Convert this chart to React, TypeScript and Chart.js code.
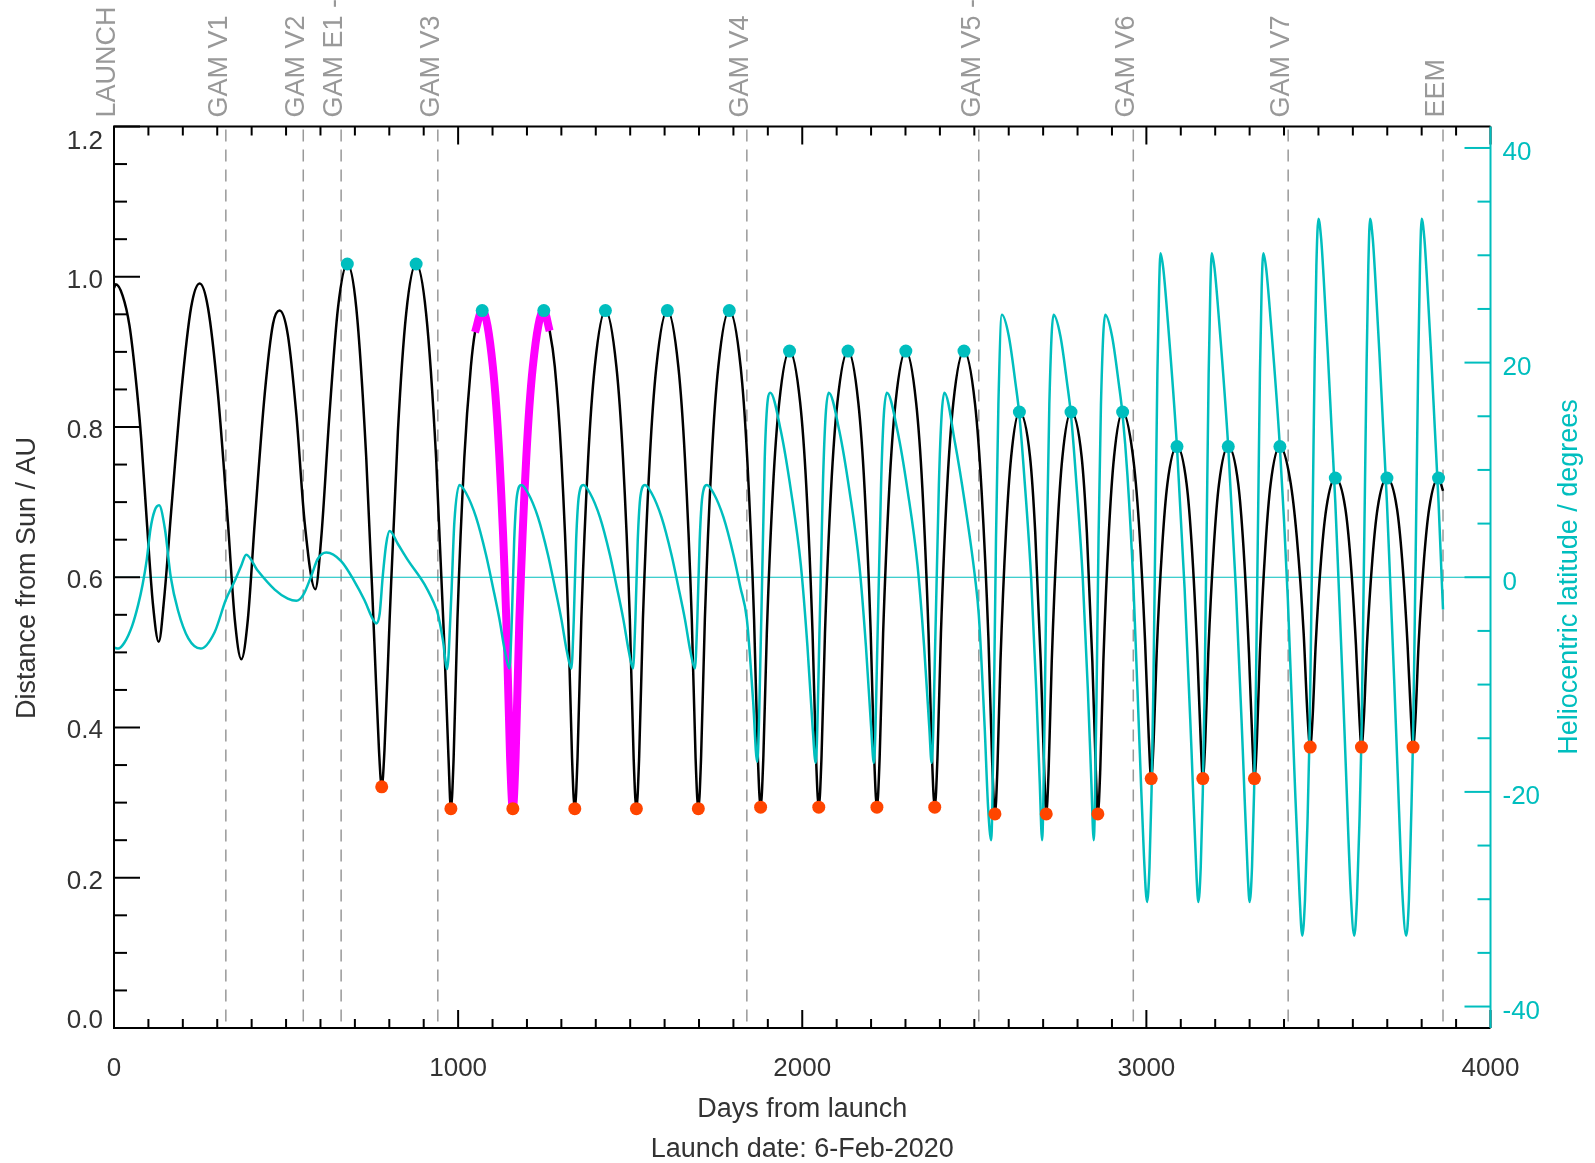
import React, { useEffect, useRef } from "react";
import { Chart, registerables } from "chart.js";

Chart.register(...registerables);

type Pt = [number, number];

// ---- Mission events (days from launch) ----
const eventNames = ["LAUNCH", "GAM V1", "GAM V2", "GAM E1 -", "GAM V3", "GAM V4", "GAM V5 -", "GAM V6", "GAM V7", "EEM"];
const eventDays = [0, 325, 550, 660, 941, 1839, 2513, 2962, 3412, 3862];

// ---- Axis ticks ----
const xTickValues = [0, 1000, 2000, 3000, 4000];
const xTickLabels = ["0", "1000", "2000", "3000", "4000"];
const leftTickValues = [0, 0.2, 0.4, 0.6, 0.8, 1.0, 1.2];
const leftTickLabels = ["0.0", "0.2", "0.4", "0.6", "0.8", "1.0", "1.2"];
const rightTickValues = [-40, -20, 0, 20, 40];
const rightTickLabels = ["-40", "-20", "0", "20", "40"];

// ---- Distance from Sun (AU) : [day, AU] ----
const distCruise: Pt[] = [
  [0, 0.985], [5, 0.99], [25, 0.975], [45, 0.935], [62, 0.87], [79, 0.785], [96, 0.67], [113, 0.565], [130, 0.514],
  [146, 0.573], [166, 0.687], [195, 0.844], [224, 0.959], [249, 0.991], [273, 0.959], [302, 0.844],
  [331, 0.673], [351, 0.544], [370, 0.491], [389, 0.544], [409, 0.673], [438, 0.844], [462, 0.937],
  [481, 0.955], [505, 0.923], [530, 0.816], [554, 0.673], [585, 0.584], [602, 0.651], [626, 0.816],
  [651, 0.959], [678, 1.017], [704, 0.959], [733, 0.759], [757, 0.509], [770, 0.37], [778, 0.321],
  [786, 0.37], [801, 0.544], [825, 0.794], [849, 0.951], [878, 1.017], [907, 0.951], [936, 0.759],
  [960, 0.509], [972, 0.36],
];
const distPostV3: Pt[] = [
  [979, 0.292], [987, 0.36], [998, 0.544], [1018, 0.759], [1037, 0.88], [1049, 0.926], [1070, 0.955],
  [1101, 0.88], [1120, 0.759], [1140, 0.544], [1151, 0.36], [1159, 0.292], [1167, 0.36], [1178, 0.544],
  [1198, 0.759], [1217, 0.88], [1249, 0.955], [1266, 0.928], [1281, 0.88], [1300, 0.759], [1320, 0.544],
  [1331, 0.36], [1339, 0.292], [1347, 0.36], [1358, 0.544], [1378, 0.759], [1397, 0.88], [1428, 0.955],
  [1460, 0.88], [1479, 0.759], [1499, 0.544], [1510, 0.36], [1518, 0.292], [1526, 0.36], [1537, 0.544],
  [1557, 0.759], [1576, 0.88], [1608, 0.955], [1640, 0.88], [1659, 0.759], [1679, 0.544], [1690, 0.36],
  [1698, 0.292], [1706, 0.36], [1717, 0.544], [1737, 0.759], [1756, 0.88], [1788, 0.955], [1821, 0.88],
  [1840, 0.759], [1860, 0.544], [1871, 0.36],
];
const distPostV4: Pt[] = [
  [1879, 0.294], [1887, 0.361], [1897, 0.525], [1915, 0.719], [1933, 0.832], [1963, 0.901], [1994, 0.832],
  [2012, 0.719], [2030, 0.525], [2040, 0.361], [2048, 0.294], [2056, 0.361], [2066, 0.525], [2084, 0.719],
  [2102, 0.832], [2133, 0.901], [2163, 0.832], [2181, 0.719], [2199, 0.525], [2209, 0.361], [2217, 0.294],
  [2225, 0.361], [2235, 0.525], [2253, 0.719], [2271, 0.832], [2301, 0.901], [2331, 0.832], [2349, 0.719],
  [2367, 0.525], [2377, 0.361], [2385, 0.294], [2393, 0.361], [2403, 0.525], [2421, 0.719], [2439, 0.832],
  [2470, 0.901], [2502, 0.831], [2521, 0.716], [2541, 0.519], [2552, 0.353],
];
const distPostV5: Pt[] = [
  [2560, 0.285], [2567, 0.344], [2576, 0.488], [2592, 0.66], [2607, 0.76], [2631, 0.82], [2662, 0.76],
  [2677, 0.66], [2693, 0.488], [2703, 0.344], [2709, 0.285], [2716, 0.344], [2725, 0.488], [2741, 0.66],
  [2756, 0.76], [2781, 0.82], [2812, 0.76], [2827, 0.66], [2843, 0.488], [2853, 0.344], [2859, 0.285],
  [2866, 0.344], [2875, 0.488], [2891, 0.66], [2906, 0.76], [2931, 0.82], [2960, 0.765], [2978, 0.674],
  [2996, 0.517], [3007, 0.386],
];
const distPostV6: Pt[] = [
  [3014, 0.332], [3021, 0.381], [3030, 0.5], [3046, 0.641], [3061, 0.724], [3089, 0.774], [3117, 0.724],
  [3132, 0.641], [3148, 0.5], [3158, 0.381], [3164, 0.332], [3171, 0.381], [3180, 0.5], [3196, 0.641],
  [3211, 0.724], [3238, 0.774], [3267, 0.724], [3282, 0.641], [3298, 0.5], [3308, 0.381], [3314, 0.332],
  [3321, 0.381], [3330, 0.5], [3346, 0.641], [3361, 0.724], [3388, 0.774], [3418, 0.729], [3437, 0.654],
  [3457, 0.526], [3468, 0.418],
];
const distPostV7: Pt[] = [
  [3476, 0.374], [3483, 0.413], [3492, 0.51], [3508, 0.625], [3523, 0.692], [3549, 0.732], [3578, 0.692],
  [3593, 0.625], [3609, 0.51], [3619, 0.413], [3625, 0.374], [3632, 0.413], [3641, 0.51], [3657, 0.625],
  [3672, 0.692], [3699, 0.732], [3728, 0.692], [3743, 0.625], [3759, 0.51], [3769, 0.413], [3775, 0.374],
  [3782, 0.413], [3791, 0.51], [3807, 0.625], [3822, 0.692], [3849, 0.732], [3862, 0.715],
];

// highlighted orbit (magenta), days
const highlightFrom = 1049;
const highlightTo = 1266;

// ---- Heliocentric latitude (degrees) : [day, deg] ----
const latCruise: Pt[] = [
  [0, -6.55], [12, -6.65], [30, -6.1], [53, -4.5], [70, -2.6], [83, -0.7], [95, 1.6], [106, 4.5], [118, 6.2],
  [131, 6.7], [148, 4.5], [165, 0], [186, -3.1], [216, -5.7], [252, -6.65], [292, -5.15], [325, -2.1],
  [350, -0.4], [370, 1.1], [384, 2.1], [418, 0.6], [467, -1.15], [505, -2.0], [530, -2.2], [550, -1.65],
  [573, 0.1], [592, 1.7], [617, 2.3], [660, 1.5], [699, -0.4], [728, -2.15], [752, -3.9], [762, -4.3],
  [772, -3.4], [781, 0.1], [791, 3.1], [801, 4.3], [825, 3.1], [854, 1.6], [902, -0.65], [936, -2.9],
  [941, -3.4], [956, -5.9], [968, -8.55], [980, -1.9], [989, 5.1], [1004, 8.6],
];
const latPostV3: Pt[] = [
  [1023, 7.85], [1052, 5.6], [1081, 2.1], [1101, -0.9], [1120, -3.9], [1136, -6.9], [1149, -8.5], [1156, -4.0],
  [1163, 3.5], [1171, 7.6], [1184, 8.6], [1203, 7.85], [1232, 5.6], [1261, 2.1], [1281, -0.9], [1300, -3.9],
  [1316, -6.9], [1329, -8.5], [1336, -4.0], [1343, 3.5], [1351, 7.6], [1364, 8.6], [1383, 7.85], [1412, 5.6],
  [1441, 2.1], [1461, -0.9], [1480, -3.9], [1496, -6.9], [1508, -8.5], [1515, -4.0], [1522, 3.5], [1530, 7.6],
  [1543, 8.6], [1562, 7.85], [1591, 5.6], [1620, 2.1], [1640, -0.9], [1659, -3.9], [1675, -6.9], [1688, -8.5],
  [1695, -4.0], [1702, 3.5], [1710, 7.6], [1723, 8.6], [1742, 7.85], [1771, 5.6], [1800, 2.1], [1820, -0.9],
  [1839, -3.9], [1857, -11.4], [1869, -17.2], [1881, -3.9], [1891, 11.1], [1900, 16.6], [1907, 17.2],
];
const latPostV4: Pt[] = [
  [1938, 13.6], [1967, 8.1], [1996, 1.1], [2015, -6.4], [2030, -13.9], [2039, -17.3], [2051, -3.9], [2060, 8.6],
  [2068, 15.1], [2077, 17.2], [2108, 13.6], [2137, 8.1], [2166, 1.1], [2185, -6.4], [2200, -13.9], [2208, -17.3],
  [2220, -3.9], [2229, 8.6], [2237, 15.1], [2246, 17.2], [2277, 13.6], [2306, 8.1], [2335, 1.1], [2354, -6.4],
  [2369, -13.9], [2376, -17.3], [2388, -3.9], [2397, 8.6], [2405, 15.1], [2413, 17.2], [2444, 12.5], [2473, 6.8],
  [2502, 0.0], [2513, -3.5], [2530, -13.9], [2540, -21.4], [2549, -24.5],
];
const latPostV5: Pt[] = [
  [2557, -11.4], [2563, 3.6], [2570, 16.1], [2580, 24.45], [2600, 22.5], [2620, 18], [2631, 15.1], [2645, 9.5],
  [2665, 0], [2680, -10.5], [2690, -19], [2697, -24.5], [2705, -11.4], [2711, 3.6], [2718, 16.1], [2730, 24.45],
  [2750, 22.5], [2770, 18], [2781, 15.1], [2795, 9.5], [2815, 0], [2830, -10.5], [2840, -19], [2847, -24.5],
  [2855, -11.4], [2861, 3.6], [2868, 16.1], [2880, 24.45], [2900, 22.5], [2920, 18], [2931, 15.1], [2945, 9.5],
  [2962, -0.5], [2981, -16.4], [2993, -26], [3002, -30.25],
];
const latPostV6: Pt[] = [
  [3009, -27], [3015, -20], [3020, -11], [3024, -1], [3028, 9], [3032, 19], [3037, 27], [3041, 30.2],
  [3049, 28.8], [3062, 24], [3089, 12.1], [3111, -1], [3131, -16], [3146, -28], [3151, -30.25],
  [3158, -27], [3164, -20], [3169, -11], [3173, -1], [3177, 9], [3181, 19], [3186, 27], [3190, 30.2],
  [3198, 28.8], [3211, 24], [3238, 12.1], [3260, -1], [3280, -16], [3295, -28], [3300, -30.25],
  [3307, -27], [3313, -20], [3318, -11], [3322, -1], [3326, 9], [3330, 19], [3335, 27], [3340, 30.2],
  [3348, 28.8], [3361, 24], [3388, 12.1], [3411, -2], [3430, -18], [3445, -29.5], [3453, -33.4],
];
const latPostV7: Pt[] = [
  [3461, -30], [3468, -23], [3474, -15], [3479, -4], [3484, 8], [3489, 20], [3494, 29], [3500, 33.4],
  [3508, 31.5], [3515, 28], [3527, 21], [3538, 14], [3549, 7], [3558, 0], [3570, -9.5], [3580, -18],
  [3594, -29.5], [3604, -33.4], [3612, -30], [3619, -23], [3625, -15], [3630, -4], [3635, 8], [3640, 20],
  [3645, 29], [3650, 33.4], [3658, 31.5], [3665, 28], [3677, 21], [3688, 14], [3699, 7], [3708, 0],
  [3720, -9.5], [3730, -18], [3744, -29.5], [3755, -33.4], [3763, -30], [3769, -23], [3775, -15], [3780, -4],
  [3785, 8], [3790, 20], [3795, 29], [3800, 33.4], [3808, 31.5], [3815, 28], [3827, 21], [3838, 14],
  [3849, 7], [3858, 0], [3862, -3.0],
];

// ---- Markers ----
const aphelionDays = [678, 878, 1070, 1249, 1428, 1608, 1788, 1963, 2133, 2301, 2470, 2631, 2781, 2931, 3089, 3238, 3388, 3549, 3699, 3849];
const aphelionAU = [1.017, 1.017, 0.955, 0.955, 0.955, 0.955, 0.955, 0.901, 0.901, 0.901, 0.901, 0.82, 0.82, 0.82, 0.774, 0.774, 0.774, 0.732, 0.732, 0.732];
const perihelionDays = [778, 979, 1159, 1339, 1518, 1698, 1879, 2048, 2217, 2385, 2560, 2709, 2859, 3014, 3164, 3314, 3476, 3625, 3775];
const perihelionAU = [0.321, 0.292, 0.292, 0.292, 0.292, 0.292, 0.294, 0.294, 0.294, 0.294, 0.285, 0.285, 0.285, 0.332, 0.332, 0.332, 0.374, 0.374, 0.374];

const CYAN = "#00BEBE";
const MAGENTA = "#FF00FF";
const RED = "#FF4500";
const FONT_FAMILY = '"Liberation Sans", Arial, Helvetica, sans-serif';
const FS = 26;

const W = 1595;
const H = 1163;

function toXY(arr: Pt[]) {
  return arr.map(([x, y]) => ({ x, y }));
}

export default function App() {
  const ref = useRef<HTMLCanvasElement>(null);

  useEffect(() => {
    const canvas = ref.current;
    if (!canvas) return;

    const distance: Pt[] = [...distCruise, ...distPostV3, ...distPostV4, ...distPostV5, ...distPostV6, ...distPostV7];
    const latitude: Pt[] = [...latCruise, ...latPostV3, ...latPostV4, ...latPostV5, ...latPostV6, ...latPostV7];
    const highlight = distance.filter(([d]) => d >= highlightFrom && d <= highlightTo);

    const capH = FS * 0.716;

    const decor = {
      id: "decor",
      beforeDatasetsDraw(chart: any) {
        const { ctx, chartArea: a, scales } = chart;
        const sx = scales.x;
        const sr = scales.y1;
        ctx.save();
        ctx.strokeStyle = "#999999";
        ctx.lineWidth = 1.5;
        ctx.setLineDash([12, 8]);
        eventDays.forEach((d) => {
          if (d <= 0) return;
          const px = sx.getPixelForValue(d);
          ctx.beginPath();
          ctx.moveTo(px, a.top + 3);
          ctx.lineTo(px, a.bottom);
          ctx.stroke();
        });
        ctx.setLineDash([]);
        const zy = sr.getPixelForValue(0);
        ctx.strokeStyle = CYAN;
        ctx.lineWidth = 1.2;
        ctx.beginPath();
        ctx.moveTo(a.left, zy);
        ctx.lineTo(a.right, zy);
        ctx.stroke();
        ctx.restore();
      },
      afterDatasetsDraw(chart: any) {
        const { ctx, chartArea: a, scales } = chart;
        const sx = scales.x;
        const sy = scales.y;
        const sr = scales.y1;
        ctx.save();
        ctx.lineCap = "butt";
        ctx.strokeStyle = "#000";
        ctx.lineWidth = 2;
        ctx.beginPath();
        ctx.moveTo(a.right, a.top);
        ctx.lineTo(a.left, a.top);
        ctx.lineTo(a.left, a.bottom);
        ctx.lineTo(a.right, a.bottom);
        ctx.stroke();
        for (let i = 0; i <= 40; i++) {
          const d = i * 100;
          const px = sx.getPixelForValue(d);
          const len = i % 10 === 0 ? 18 : 9;
          ctx.beginPath();
          ctx.moveTo(px, a.bottom);
          ctx.lineTo(px, a.bottom - len);
          ctx.moveTo(px, a.top);
          ctx.lineTo(px, a.top + len);
          ctx.stroke();
        }
        for (let i = 0; i <= 24; i++) {
          const v = i * 0.05;
          const py = sy.getPixelForValue(v);
          const len = i % 4 === 0 ? 26 : 13;
          ctx.beginPath();
          ctx.moveTo(a.left, py);
          ctx.lineTo(a.left + len, py);
          ctx.stroke();
        }
        ctx.strokeStyle = CYAN;
        ctx.beginPath();
        ctx.moveTo(a.right, a.top);
        ctx.lineTo(a.right, a.bottom);
        ctx.stroke();
        for (let v = -40; v <= 40; v += 5) {
          const py = sr.getPixelForValue(v);
          const len = v % 20 === 0 ? 26 : 13;
          ctx.beginPath();
          ctx.moveTo(a.right, py);
          ctx.lineTo(a.right - len, py);
          ctx.stroke();
        }

        ctx.font = `${FS}px ${FONT_FAMILY}`;
        ctx.fillStyle = "#333333";
        ctx.textBaseline = "alphabetic";
        ctx.textAlign = "right";
        leftTickValues.forEach((v, i) => {
          const py = sy.getPixelForValue(v);
          let base = py + 1.5 + capH / 2;
          if (i === leftTickValues.length - 1) base = a.top + 22;
          if (i === 0) base = a.bottom;
          ctx.fillText(leftTickLabels[i], a.left - 11, base);
        });
        ctx.textAlign = "center";
        xTickValues.forEach((v, i) => {
          const px = sx.getPixelForValue(v);
          ctx.fillText(xTickLabels[i], px, 1076);
        });
        ctx.fillStyle = CYAN;
        ctx.textAlign = "left";
        rightTickValues.forEach((v, i) => {
          const py = sr.getPixelForValue(v);
          ctx.fillText(rightTickLabels[i], a.right + 12, py + 3 + capH / 2);
        });

        ctx.font = `27px ${FONT_FAMILY}`;
        ctx.fillStyle = "#333333";
        ctx.textAlign = "center";
        const cx = (a.left + a.right) / 2;
        ctx.fillText("Days from launch", cx, 1117);
        ctx.fillText("Launch date: 6-Feb-2020", cx, 1157);
        ctx.save();
        ctx.translate(35, 578);
        ctx.rotate(-Math.PI / 2);
        ctx.fillText("Distance from Sun / AU", 0, 0);
        ctx.restore();
        ctx.save();
        ctx.fillStyle = CYAN;
        ctx.translate(1577, 577);
        ctx.rotate(-Math.PI / 2);
        ctx.fillText("Heliocentric latitude / degrees", 0, 0);
        ctx.restore();

        ctx.fillStyle = "#999999";
        ctx.textAlign = "left";
        eventDays.forEach((d, i) => {
          const px = sx.getPixelForValue(d);
          ctx.save();
          ctx.translate(px + 1, a.top - 9);
          ctx.rotate(-Math.PI / 2);
          ctx.fillText(eventNames[i], 0, 0);
          ctx.restore();
        });
        ctx.restore();
      },
    };

    const chart = new Chart(canvas, {
      type: "line",
      data: {
        datasets: [
          {
            label: "Distance",
            data: toXY(distance),
            yAxisID: "y",
            borderColor: "#000000",
            borderWidth: 2.5,
            pointRadius: 0,
            cubicInterpolationMode: "monotone",
            fill: false,
            order: 5,
          },
          {
            label: "Highlight",
            data: toXY(highlight),
            yAxisID: "y",
            borderColor: MAGENTA,
            borderWidth: 8,
            borderCapStyle: "butt",
            pointRadius: 0,
            cubicInterpolationMode: "monotone",
            fill: false,
            order: 4,
          },
          {
            label: "Latitude",
            data: toXY(latitude),
            yAxisID: "y1",
            borderColor: CYAN,
            borderWidth: 2.5,
            pointRadius: 0,
            cubicInterpolationMode: "monotone",
            fill: false,
            order: 3,
          },
          {
            label: "Aphelion",
            data: aphelionDays.map((d, i) => ({ x: d, y: aphelionAU[i] })),
            yAxisID: "y",
            showLine: false,
            pointRadius: 6.5,
            pointBackgroundColor: CYAN,
            pointBorderColor: CYAN,
            pointBorderWidth: 0,
            order: 1,
          },
          {
            label: "Perihelion",
            data: perihelionDays.map((d, i) => ({ x: d, y: perihelionAU[i] })),
            yAxisID: "y",
            showLine: false,
            pointRadius: 6.5,
            pointBackgroundColor: RED,
            pointBorderColor: RED,
            pointBorderWidth: 0,
            order: 1,
          },
        ] as any,
      },
      options: {
        animation: false,
        responsive: false,
        maintainAspectRatio: false,
        events: [],
        layout: { padding: { left: 114, right: W - 1490.5, top: 126.5, bottom: H - 1028 } },
        plugins: { legend: { display: false }, tooltip: { enabled: false }, title: { display: false } },
        scales: {
          x: { type: "linear", min: 0, max: 4000, display: false },
          y: { type: "linear", min: 0, max: 1.2, display: false },
          y1: { type: "linear", min: -42, max: 42, display: false, position: "right" },
        },
      } as any,
      plugins: [decor],
    });

    return () => chart.destroy();
  }, []);

  return (
    <div style={{ position: "fixed", left: 0, top: 0, width: W, height: H, background: "#ffffff" }}>
      <canvas ref={ref} width={W} height={H} style={{ width: W, height: H, display: "block" }} />
    </div>
  );
}
